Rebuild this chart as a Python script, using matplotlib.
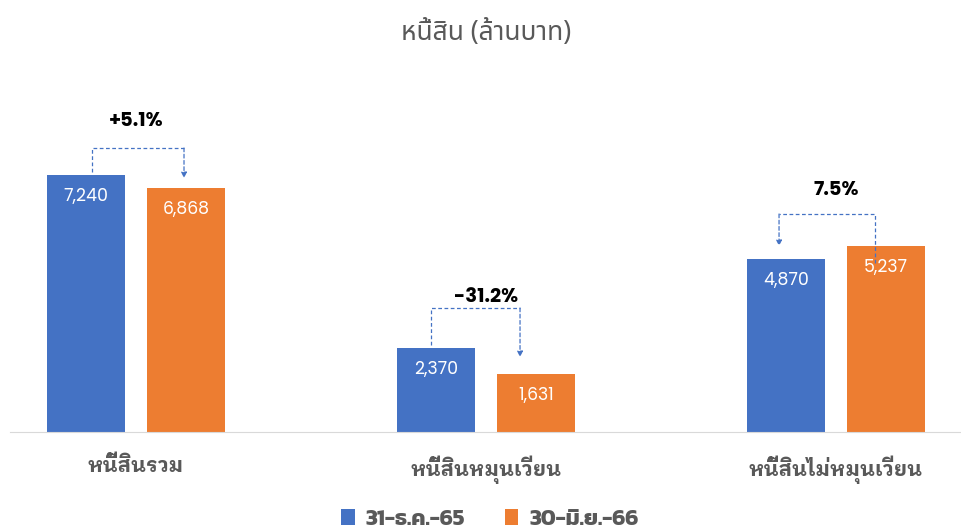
import numpy as np
import matplotlib
matplotlib.use("Agg")
import matplotlib.pyplot as plt
from matplotlib import font_manager

# data
categories = ["หนี้สินรวม", "หนี้สินหมุนเวียน", "หนี้สินไม่หมุนเวียน"]
series_names = ["31-ธ.ค.-65", "30-มิ.ย.-66"]
dec65 = [7240, 2370, 4870]
jun66 = [6868, 1631, 5237]
changes = ["+5.1%", "-31.2%", "7.5%"]

installed = {f.name for f in font_manager.fontManager.ttflist}


def pick(*names):
    got = [n for n in names if n in installed]
    return got + ["DejaVu Sans"]


f_title = pick("Noto Sans Thai", "IBM Plex Sans Thai Looped", "Loma")
f_cat = pick("IBM Plex Sans Thai Looped", "Noto Sans Thai Looped", "Noto Sans Thai")
f_val = pick("Poppins", "Prompt", "Kanit")
f_pct = pick("Poppins", "Prompt", "Kanit")
f_leg = pick("Kanit", "Prompt")

blue = "#4472C4"
orange = "#ED7D31"
grey = "#595959"

fig = plt.figure(figsize=(9.61, 5.29), dpi=100)
ax = fig.add_axes([10 / 961, 97 / 529, 951 / 961, 372 / 529])
ax.set_xlim(-0.36, 2.357)
ax.set_ylim(0, 372 * 7240 / 257)

x = np.arange(len(categories))
w = 78 / 350
off = 50 / 350
b1 = ax.bar(x - off, dec65, w, color=blue)
b2 = ax.bar(x + off, jun66, w, color=orange)

for bars in (b1, b2):
    for r in bars:
        v = r.get_height()
        ax.annotate(f"{v:,.0f}", (r.get_x() + r.get_width() / 2, v),
                    xytext=(0, -16), textcoords="offset points",
                    ha="center", va="center", color="white", fontsize=12.5,
                    family=f_val)

ax.set_xticks(x)
ax.set_xticklabels(categories, fontsize=15, fontweight="bold", color=grey,
                   family=f_cat)
ax.tick_params(axis="x", length=0, pad=17)
ax.set_yticks([])
for s in ["left", "right", "top"]:
    ax.spines[s].set_visible(False)
ax.spines["bottom"].set_color("#D9D9D9")

# connectors
bracket_top = [8000, 3493, 6141]
start_y = [7324, 2451, 4761]
end_y = [7155, 2113, 5240]
lx = [-44 / 350, -55 / 350, -57 / 350]
rx = [48 / 350, 34 / 350, 39 / 350]
text_y = [8740, 3780, 6800]
for i in range(len(categories)):
    xl = i + lx[i]
    xr = i + rx[i]
    if i < 2:
        xs, xe = xl, xr
    else:
        xs, xe = xr, xl
    ax.plot([xs, xs, xe], [start_y[i], bracket_top[i], bracket_top[i]],
            color=blue, lw=0.9, ls=(0, (3, 2)))
    ax.annotate("", xy=(xe, end_y[i]), xytext=(xe, bracket_top[i]),
                arrowprops=dict(arrowstyle="-|>", color=blue, lw=0.9,
                                ls=(0, (3, 2)), mutation_scale=8,
                                shrinkA=0, shrinkB=0))
    ax.text(i, text_y[i], changes[i], ha="center", va="center",
            fontsize=14, fontweight="bold", color="black", family=f_pct)

fig.text(486 / 961, 1 - 33 / 529, "หนี้สิน (ล้านบาท)", ha="center", va="center",
         fontsize=19, color=grey, family=f_title)

leg = fig.legend([b1, b2], series_names, loc="center",
                 bbox_to_anchor=(490 / 961, 1 - 519 / 529),
                 ncol=2, frameon=False, handlelength=0.6, handleheight=0.7,
                 columnspacing=1.8, handletextpad=0.5,
                 prop={"size": 16, "weight": "bold", "family": f_leg})
for t in leg.get_texts():
    t.set_color(grey)

fig.savefig("out.png", dpi=100)
